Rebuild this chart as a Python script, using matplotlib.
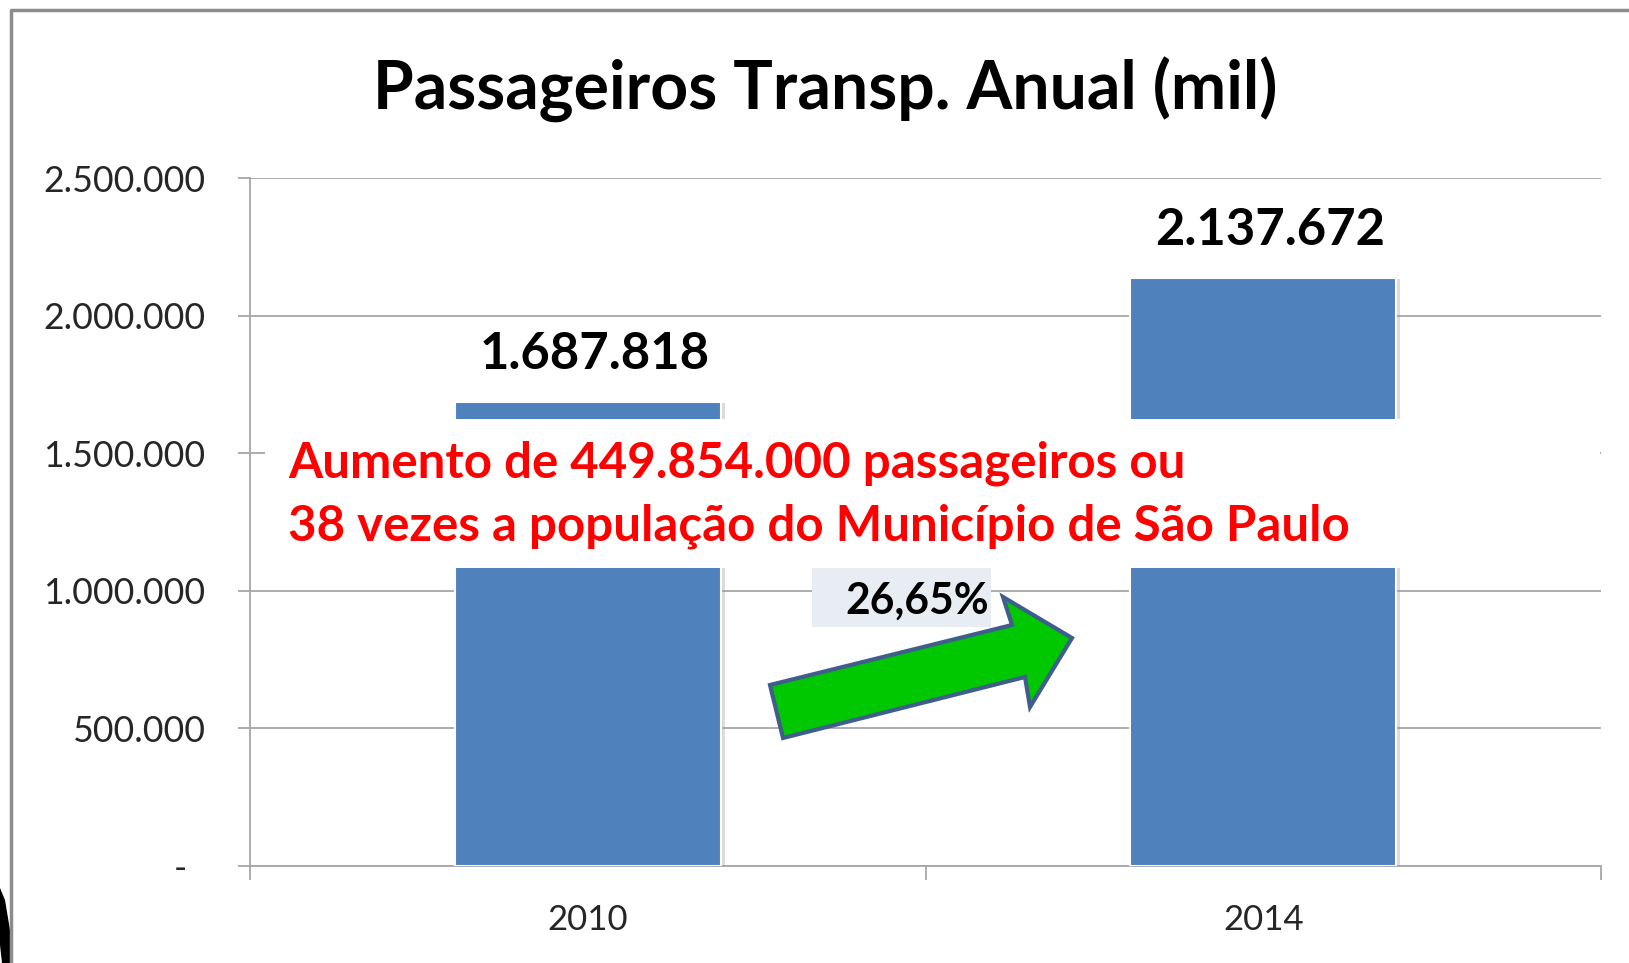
import matplotlib.pyplot as plt
from matplotlib.patches import Rectangle, Polygon
from matplotlib.ticker import FixedLocator, FuncFormatter
import matplotlib.patheffects as pe

plt.rcParams['font.family'] = ['Lato', 'DejaVu Sans']

# dados (mil passageiros)
anos = ['2010', '2014']
passageiros = [1687818, 2137672]
variacao = '26,65%'
titulo = 'Passageiros Transp. Anual (mil)'
nota = ['Aumento de 449.854.000 passageiros ou',
        '38 vezes a população do Município de São Paulo']
y_ticks = [0, 500000, 1000000, 1500000, 2000000, 2500000]

W, H = 1629, 963
fig = plt.figure(figsize=(W / 100, H / 100), dpi=100)
fig.patch.set_facecolor('white')


def fx(px):
    return px / W


def fy(py):
    return 1 - py / H


ax = fig.add_axes([fx(250), fy(866), fx(1601) - fx(250), (866 - 178) / H])

pos = list(range(len(anos)))
bars = ax.bar(pos, passageiros, width=0.394, color='#4F81BD',
              edgecolor='white', linewidth=1.5, zorder=3)
for b in bars:
    b.set_path_effects([pe.SimplePatchShadow(offset=(3, -1), shadow_rgbFace='#999999', alpha=0.35),
                        pe.Normal()])

for p, v in zip(pos, passageiros):
    ax.text(p + 0.01, v + 85000, f'{v:,}'.replace(',', '.'), ha='center', va='bottom',
            fontsize=36.5, fontweight='bold', color='black', zorder=5)

ax.set_xlim(-0.5, 1.5)
ax.set_ylim(0, 2500000)
ax.set_yticks(y_ticks)
ax.yaxis.set_major_formatter(FuncFormatter(
    lambda v, _: '-  ' if v == 0 else f'{v:,.0f}'.replace(',', '.')))
ax.grid(axis='y', color='#a6a6a6', linewidth=1.3, zorder=0)
ax.tick_params(axis='y', direction='out', length=9, width=1.3, color='#a6a6a6',
               labelsize=25.7, labelcolor='#262626', pad=23)

ax.xaxis.set_major_locator(FixedLocator([-0.5, 0.5, 1.5]))
ax.xaxis.set_minor_locator(FixedLocator(pos))
ax.xaxis.set_major_formatter(FuncFormatter(lambda v, _: ''))
ax.set_xticklabels(anos, minor=True)
ax.tick_params(axis='x', which='major', direction='out', length=10, width=1.3, color='#a6a6a6')
ax.tick_params(axis='x', which='minor', length=0, labelsize=25, labelcolor='#262626', pad=27.5)

for s in ['top', 'right']:
    ax.spines[s].set_visible(False)
for s in ['left', 'bottom']:
    ax.spines[s].set_color('#a6a6a6')
    ax.spines[s].set_linewidth(1.3)

# título
fig.text(fx(825), fy(90), titulo, ha='center', va='center',
         fontsize=47.5, fontweight='bold', color='black')

# caixa branca com a nota
fig.add_artist(Rectangle((fx(265), fy(568)), fx(1600) - fx(265), (568 - 419) / H,
                         transform=fig.transFigure, facecolor='white', edgecolor='none', zorder=10))
fig.text(fx(288), fy(463), nota[0], ha='left', va='center', fontsize=35.5,
         fontweight='bold', color='#FF0000', zorder=11)
fig.text(fx(288), fy(526), nota[1], ha='left', va='center', fontsize=35.5,
         fontweight='bold', color='#FF0000', zorder=11)

# seta verde e percentual
seta = [(783, 738), (770, 685), (1012, 625), (1003, 597), (1072, 638), (1030, 707), (1025, 677)]
fig.add_artist(Polygon([(fx(x), fy(y)) for x, y in seta], closed=True,
                       transform=fig.transFigure, facecolor='#00C800',
                       edgecolor='#3F5E8C', linewidth=3, zorder=12))
fig.add_artist(Rectangle((fx(812), fy(627)), fx(991) - fx(812), (627 - 568) / H,
                         transform=fig.transFigure, facecolor='#E8ECF3', edgecolor='none', zorder=11))
fig.text(fx(989), fy(601), variacao, ha='right', va='center', fontsize=30.7,
         fontweight='bold', color='black', zorder=13)

# moldura
fig.add_artist(plt.Line2D([fx(11), fx(11), 1], [0, fy(10), fy(10)], transform=fig.transFigure,
                          color='#8c8c8c', linewidth=2.5, zorder=20))
fig.add_artist(Polygon([(0, fy(888)), (fx(5), fy(900)), (fx(10), fy(930)), (fx(10), 0),
                        (fx(2), 0), (0, fy(945))], closed=True, transform=fig.transFigure,
                       facecolor='black', edgecolor='none', zorder=19))

fig.savefig('out.png', dpi=100)
